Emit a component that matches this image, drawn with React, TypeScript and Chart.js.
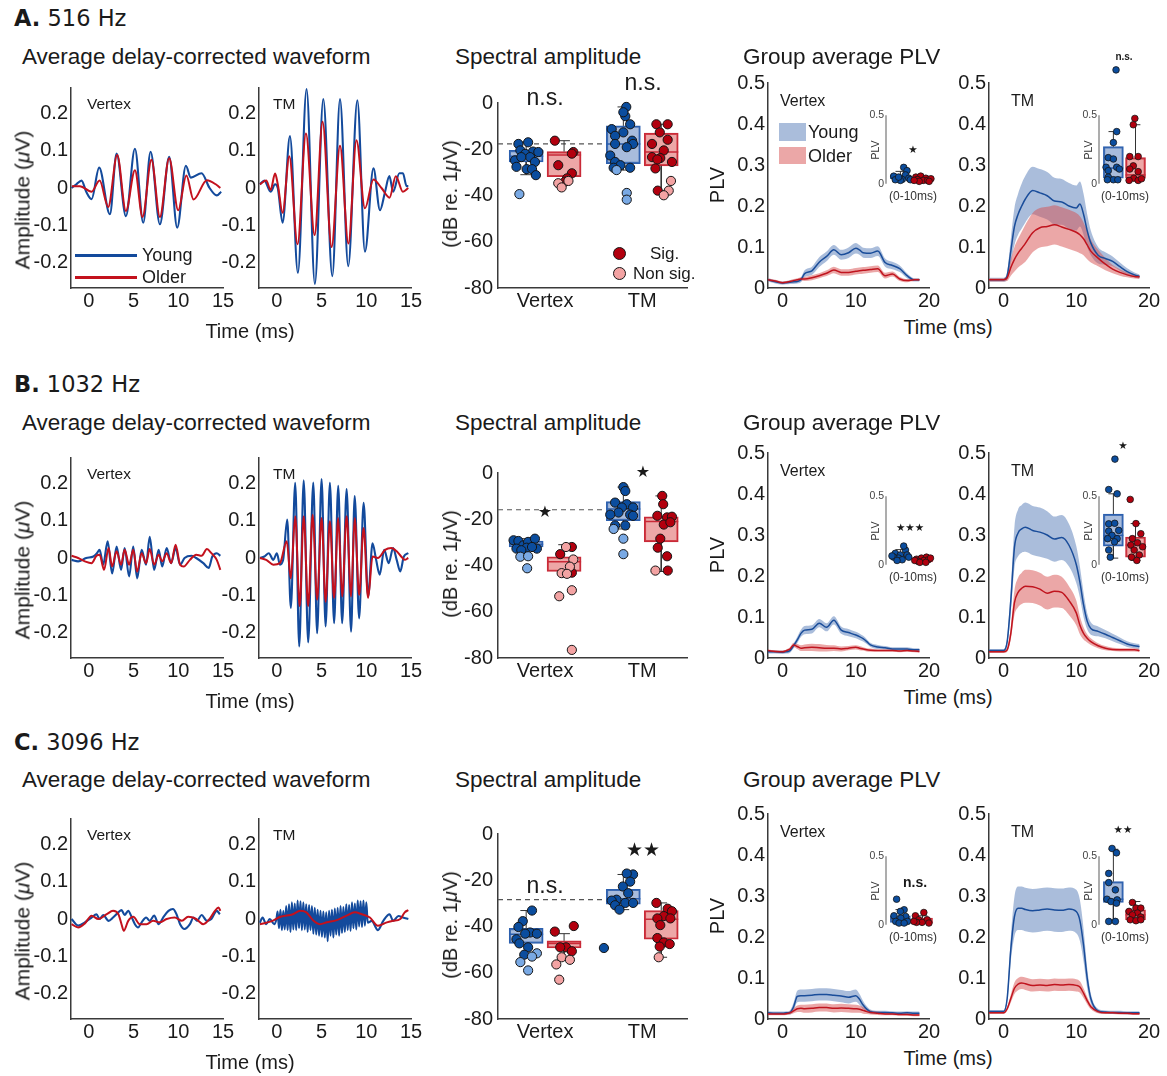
import React, { useEffect, useRef } from "react";
import { Chart, registerables } from "chart.js";

Chart.register(...registerables);

const SANS = "'Liberation Sans', Arial, Helvetica, sans-serif";
const DEJAVU = "'DejaVu Sans', sans-serif";
Chart.defaults.font.family = SANS;
Chart.defaults.color = "#1a1a1a";

// ---------------- colours ----------------
const BLUE = "#134a9c";
const RED = "#c3111d";
const YOUNG_BAND = "rgba(100,135,190,0.55)";
const OLDER_BAND = "rgba(215,80,80,0.5)";
const PLV_BLUE = "#1a4d9a";
const PLV_RED = "#c0141e";
const Y_DARK = "#0b4d9e";
const Y_LIGHT = "#79a9e4";
const O_DARK = "#b2000e";
const O_LIGHT = "#f3a3a3";
const Y_BOX = "rgba(105,140,195,0.58)";
const O_BOX = "rgba(222,95,95,0.55)";
const Y_EDGE = "#2b5fae";
const O_EDGE = "#c92a38";
const AXIS = "#3a3a3a";
const INK = "#1a1a1a";

// ---------------- row labels ----------------
const ROW_LETTER = ["A.", "B.", "C."];
const ROW_FREQ = ["516 Hz", "1032 Hz", "3096 Hz"];

// ---------------- waveform data: [time ms, amplitude µV] ----------------
const A_VX_Y = [[-1.94,0],[-1.4,0.01],[-0.82,0.02],[-0.3,-0.01],[0.3,-0.03],[1.15,0.055],[2.35,-0.071],[3.1,0.093],[4.14,-0.076],[5.15,0.106],[6.08,-0.094],[6.9,0.098],[7.94,-0.098],[8.98,0.084],[9.88,-0.107],[10.85,0.06],[11.4,0.028],[12.6,0.04],[13.5,0],[14.3,-0.02],[14.8,-0.01]];
const A_VX_O = [[-1.9,0.005],[-1,0.005],[0.3,-0.01],[1.2,0.02],[2.16,-0.051],[3.17,0.089],[4.14,-0.062],[5.15,0.048],[6.0,-0.078],[7.0,0.076],[7.94,-0.078],[8.98,0.08],[9.99,-0.06],[10.9,0.034],[11.7,-0.031],[13.2,0.021],[14.3,0.008],[14.7,0]];
const A_TM_Y = [[-1.9,0.01],[-1.4,0.02],[-0.7,-0.01],[-0.2,0.01],[0.1,0],[0.64,-0.094],[1.46,0.14],[2.35,-0.229],[3.32,0.267],[4.25,-0.259],[5.19,0.24],[6.2,-0.238],[7.06,0.24],[7.98,-0.211],[9.0,0.237],[9.85,-0.172],[10.8,0.053],[11.53,-0.06],[12.1,-0.01],[12.58,0.032],[13.0,-0.01],[13.7,0.04],[14.1,0.04],[14.5,0.005],[14.7,0.005]];
const A_TM_O = [[-1.9,0.01],[-1.2,0.02],[-0.7,-0.005],[-0.2,0.039],[0.1,0.01],[0.64,-0.067],[1.39,0.086],[2.31,-0.152],[3.25,0.147],[4.22,-0.127],[5.11,0.179],[6.12,-0.159],[7.06,0.114],[8.0,-0.15],[8.9,0.129],[9.85,-0.055],[10.8,0.023],[11.7,0],[12.6,-0.026],[13.3,0.032],[14.1,-0.01],[14.7,0]];

const B_VX_Y = [[-1.94,-0.005],[-1.2,-0.009],[-0.3,0],[0.5,0.004],[0.9,0.013],[1.2,0.022],[1.6,-0.018],[2.1,0.045],[2.6,-0.042],[3.1,0.031],[3.6,-0.032],[4.0,0.027],[4.5,-0.05],[4.96,0.031],[5.4,-0.055],[5.9,0.022],[6.4,-0.018],[6.8,0.057],[7.3,-0.032],[7.8,0.022],[8.2,-0.023],[8.7,0.027],[9.2,-0.014],[9.7,0.027],[10.2,-0.018],[10.7,0],[11.5,0.006],[12.0,0],[12.8,-0.014],[13.4,-0.027],[13.8,0.004],[14.3,0.013],[14.7,0.006]];
const B_VX_O = [[-1.94,0.006],[-1.2,0],[-0.45,-0.009],[0.3,-0.014],[0.85,0.006],[1.2,0.009],[1.7,-0.032],[2.2,0.027],[2.6,-0.023],[3.1,0.018],[3.6,-0.018],[4.0,0.022],[4.5,-0.018],[4.96,0.022],[5.4,-0.037],[5.9,0.013],[6.4,-0.014],[6.8,0.024],[7.3,-0.018],[7.8,0.009],[8.2,-0.009],[8.7,0.013],[9.2,-0.014],[9.7,0.036],[10.2,-0.018],[10.6,-0.023],[11.3,-0.005],[12.0,0.009],[12.6,0.006],[13.2,0.024],[13.7,0.013],[14.3,-0.005],[14.7,-0.032]];
const B_TM_Y = [[-1.9,0],[-1.4,0.004],[-0.9,0.013],[-0.4,-0.005],[0,0.013],[0.34,-0.018],[0.7,-0.005],[1.16,0.104],[1.56,-0.135],[2.05,0.203],[2.5,-0.239],[3.0,0.21],[3.5,-0.228],[4.07,0.204],[4.5,-0.203],[5.0,0.213],[5.45,-0.185],[5.93,0.203],[6.4,-0.176],[6.86,0.195],[7.3,-0.176],[7.8,0.186],[8.3,-0.199],[8.7,0.167],[9.2,-0.163],[9.7,0.149],[10.2,-0.104],[10.7,0.04],[11.1,-0.005],[11.5,-0.045],[12.0,0.022],[12.5,-0.014],[13.0,0.027],[13.4,-0.005],[13.8,-0.036],[14.2,0.004],[14.7,0.013]];
const B_TM_O = [[-1.9,0],[-1.2,-0.005],[-0.4,-0.018],[0.34,-0.014],[1.1,0.045],[1.56,-0.055],[2.05,0.113],[2.55,-0.13],[3.0,0.113],[3.5,-0.13],[4.0,0.117],[4.5,-0.113],[5.0,0.108],[5.45,-0.118],[5.93,0.099],[6.4,-0.108],[6.86,0.108],[7.3,-0.104],[7.8,0.113],[8.3,-0.104],[8.7,0.108],[9.2,-0.1],[9.7,0.081],[10.2,-0.108],[10.7,0.004],[11.3,0],[12.1,0.022],[12.8,0.027],[13.4,0.018],[13.9,0.004],[14.3,-0.005],[14.7,0]];

const C_VX_Y = [[-1.94,0],[-1.2,-0.018],[-0.45,-0.009],[0.3,0.004],[0.85,0.013],[1.2,0],[1.6,0.011],[2.2,-0.005],[2.7,0.004],[3.3,0.018],[3.65,0.024],[4.0,0.011],[4.4,0.022],[4.8,0.004],[5.15,-0.014],[5.5,-0.023],[5.9,-0.009],[6.4,0.004],[6.8,-0.005],[7.3,0.009],[7.8,-0.014],[8.3,0.004],[8.9,0.022],[9.4,0.027],[9.8,0.013],[10.2,-0.014],[10.7,-0.027],[11.3,-0.014],[11.7,0.004],[12.1,-0.005],[12.6,0.011],[13.2,-0.005],[13.7,0],[14.3,0.022],[14.65,0.013]];
const C_VX_O = [[-1.94,-0.014],[-1.2,-0.023],[-0.45,-0.012],[0.3,0.009],[1.05,0],[2.0,0.013],[2.7,0.022],[3.3,0.013],[3.65,-0.014],[3.9,-0.032],[4.4,-0.005],[4.96,0.006],[5.7,-0.014],[6.45,-0.014],[7.2,-0.005],[7.9,-0.009],[8.7,0],[9.6,0.004],[10.4,-0.005],[11.1,0.006],[12.0,0],[12.8,-0.014],[13.5,0],[14.1,0.022],[14.5,0.031],[14.7,0.022]];
const C_TM_Y_PRE = [[-1.9,-0.01],[-1.6,0.004],[-1.2,-0.014],[-0.8,0],[-0.3,-0.014],[-0.05,0]];
// alternating crest / trough values of the 3096 Hz response, one per 0.16 ms from 0.08 ms
const C_TM_Y_OSC = [0.02,-0.025,0.025,-0.03,0.022,-0.028,0.035,-0.03,0.04,-0.035,0.045,-0.028,0.042,-0.03,0.05,-0.025,0.048,-0.03,0.045,-0.028,0.04,-0.035,0.038,-0.03,0.035,-0.04,0.03,-0.042,0.025,-0.045,0.022,-0.048,0.02,-0.05,0.018,-0.06,0.022,-0.045,0.025,-0.05,0.028,-0.042,0.03,-0.045,0.035,-0.038,0.032,-0.035,0.04,-0.03,0.038,-0.032,0.045,-0.025,0.042,-0.028,0.05,-0.02,0.048,-0.022,0.05,-0.018,0.045,-0.01];
const C_TM_Y_POST = [[10.6,-0.005],[11.3,-0.03],[11.9,-0.005],[12.6,0.013],[13.0,-0.005],[13.6,0.008],[14.1,0.004],[14.7,0]];
const C_TM_Y = [...C_TM_Y_PRE, ...C_TM_Y_OSC.map((v, i) => [0.08 + 0.16 * i, v]), ...C_TM_Y_POST];
const C_TM_O = [[-1.9,-0.014],[-1.2,-0.01],[-0.5,-0.005],[0.4,0.006],[1.8,0.013],[2.6,0.022],[3.3,0.018],[4.1,-0.005],[4.8,-0.014],[5.6,-0.009],[6.7,-0.003],[7.8,0.009],[8.7,0.018],[9.5,0.013],[10.4,0.004],[11.3,-0.018],[12.3,-0.009],[13.0,-0.005],[13.8,0],[14.3,0.018],[14.7,0.024]];

const WAVES = [
  [A_VX_Y, A_VX_O, A_TM_Y, A_TM_O],
  [B_VX_Y, B_VX_O, B_TM_Y, B_TM_O],
  [C_VX_Y, C_VX_O, C_TM_Y, C_TM_O],
];

// ---------------- spectral amplitude (dB re 1 µV): [x offset, dB, significant] ----------------
const SPEC_X = [0.805, 1.195, 1.805, 2.195];
const A_SPEC_VY = [[-0.08,-17.7,1],[0.02,-17,1],[-0.06,-20.5,1],[0.07,-21,1],[-0.01,-22,1],[0.04,-23.4,1],[-0.115,-24.8,1],[-0.05,-23.4,1],[0.09,-25.5,1],[-0.1,-27.6,1],[0.005,-28.6,1],[0.06,-28.6,1],[0.1,-31.2,1],[0.125,-21.2,1],[-0.07,-39.4,0]];
const A_SPEC_VO = [[-0.095,-16.3,1],[-0.06,-26.9,1],[0.095,-21.2,1],[0.08,-21.9,1],[0.08,-30.4,1],[0.03,-32.6,1],[0.01,-34,1],[-0.06,-34.7,0],[-0.025,-36.5,0],[0.045,-33.7,0]];
const A_SPEC_TY = [[0.03,-1.7,1],[0.02,-5.7,1],[0,-4,1],[0.07,-9.2,1],[-0.12,-11.3,1],[0,-12.7,1],[-0.085,-14.2,1],[0.09,-16.3,1],[-0.085,-17.7,1],[0.1,-17.7,1],[0.035,-19.1,1],[-0.135,-22.7,1],[-0.085,-25.5,1],[-0.03,-26.9,1],[0.07,-28,1],[-0.1,-28,1],[-0.07,-29,0],[0.035,-38.9,0],[0.035,-41.8,0]];
const A_SPEC_TO = [[-0.05,-9.2,1],[0.066,-9.2,1],[-0.015,-12.7,1],[0.066,-15.9,1],[-0.095,-17.7,1],[0.026,-20.5,1],[-0.095,-23.4,1],[-0.01,-23.8,1],[-0.04,-24.4,1],[0.11,-25.5,1],[-0.06,-28.3,1],[-0.036,-37.9,1],[0.1,-33.7,0],[0.077,-37.9,0],[0.026,-39.9,0]];
// [q1, median, q3, lower whisker, upper whisker] for Vertex-young, Vertex-older, TM-young, TM-older
const A_SPEC_STATS = [[-25.5,-23,-20.5,-31,-17],[-31.9,-22.5,-21,-35,-16.3],[-26.2,-17.7,-9.9,-29,-1.7],[-27.2,-21.2,-13,-38,-9.2]];

const B_SPEC_VY = [[-0.13,-29.1,1],[-0.08,-29.4,1],[-0.03,-31.3,1],[0.02,-29.8,1],[0.09,-28.4,1],[0.11,-32.7,1],[0.005,-32.3,1],[-0.1,-32.7,1],[0.06,-32,1],[-0.05,-33.4,1],[-0.06,-36.2,0],[0.02,-36,0],[0.01,-41.2,0]];
const B_SPEC_VO = [[-0.04,-35.1,1],[0.08,-32,1],[0.08,-43.1,1],[0.02,-32,0],[0.095,-37.4,0],[-0.025,-43.3,0],[0.06,-40.5,0],[-0.05,-53.3,0],[0.08,-50.7,0],[0.08,-76.5,0],[0.03,-43.6,0]];
const B_SPEC_TY = [[0,-6.1,1],[0.02,-7.8,1],[-0.085,-12.8,1],[0.035,-13.5,1],[-0.015,-14.9,1],[0.1,-14.9,1],[-0.05,-17.1,1],[0.07,-18,1],[-0.135,-18,1],[0.1,-18.5,1],[-0.085,-22.7,1],[0.02,-22.7,1],[-0.1,-24.2,0],[0,-28.4,0],[0,-35.1,0]];
const B_SPEC_TO = [[0.01,-9.9,1],[0.02,-13.5,1],[-0.04,-18.5,1],[0.06,-19.2,1],[0.11,-18.9,1],[0.026,-22.3,1],[0.094,-21.3,1],[-0.01,-28.4,1],[-0.036,-32.3,1],[0.06,-36,1],[0.067,-42.2,1],[-0.06,-42.2,0]];
const B_SPEC_STATS = [[-32,-30.8,-29.4,-33.4,-28.4],[-42.6,-38.4,-36.2,-43.6,-31],[-20.6,-15.6,-12.4,-24.2,-6.1],[-29.8,-21,-18.9,-42.6,-9.9]];

const C_SPEC_VY = [[0.06,-33.1,1],[-0.035,-37.7,1],[-0.08,-40.2,1],[0.04,-42.6,1],[0.11,-43.1,1],[-0.01,-43.1,1],[-0.1,-45.5,1],[-0.07,-47.3,1],[0.02,-49,1],[-0.02,-52.2,1],[0.11,-51.6,0],[0.06,-53,0],[-0.06,-55.4,0],[0.02,-59,0]];
const C_SPEC_VO = [[-0.095,-42.2,1],[0.1,-39.8,1],[0.02,-49,1],[-0.04,-49,1],[0.08,-50.7,1],[-0.025,-53.3,0],[0.06,-54.4,0],[-0.08,-56.4,0],[-0.05,-63,0]];
const C_SPEC_TY = [[0.1,-17.5,1],[0.035,-17.1,1],[0.07,-20.6,1],[-0.005,-22.7,1],[0.05,-25.6,1],[-0.07,-28.4,1],[0.02,-29.8,1],[0.1,-29.8,1],[-0.12,-28.8,1],[-0.085,-30.8,1],[-0.04,-32.7,1],[-0.2,-49.3,1]];
const C_SPEC_TO = [[-0.05,-29.8,1],[0.066,-32.3,1],[0.11,-33.4,1],[0.026,-35.5,1],[-0.04,-36.5,1],[0.094,-36.5,1],[-0.01,-39.4,1],[-0.04,-45,1],[0.026,-46.9,1],[0.087,-47.6,1],[-0.016,-48.7,1],[-0.026,-53.3,0]];
const C_SPEC_STATS = [[-47.3,-43.3,-40.8,-52.6,-33.1],[-49.3,-47.3,-46.2,-53.3,-43.1],[-30.3,-28,-23.9,-32.7,-17.5],[-45.5,-36.9,-33.1,-53.3,-29.8]];

const SPEC_GROUPS = [
  [A_SPEC_VY, A_SPEC_VO, A_SPEC_TY, A_SPEC_TO],
  [B_SPEC_VY, B_SPEC_VO, B_SPEC_TY, B_SPEC_TO],
  [C_SPEC_VY, C_SPEC_VO, C_SPEC_TY, C_SPEC_TO],
];
const SPEC_STATS = [A_SPEC_STATS, B_SPEC_STATS, C_SPEC_STATS];
const SPEC_DASH = [-17.7, -15.9, -28.4];

// ---------------- group average PLV: time axis + mean and SE per group ----------------
const T_PLV = [-2,-1,0,0.5,1,1.5,2,2.5,3,4,5,6,7,8,9,10,10.5,11,11.5,12,13,14,15,16,17,18,18.7];
const A_PV_YM = [0.02,0.015,0.012,0.013,0.014,0.015,0.016,0.02,0.035,0.042,0.063,0.077,0.093,0.081,0.086,0.097,0.093,0.086,0.085,0.085,0.09,0.062,0.055,0.047,0.03,0.02,0.02];
const A_PV_YS = [0.004,0.004,0.004,0.004,0.004,0.005,0.005,0.006,0.008,0.01,0.012,0.012,0.012,0.012,0.013,0.013,0.012,0.012,0.012,0.012,0.012,0.01,0.009,0.008,0.006,0.004,0.004];
const A_PV_OM = [0.02,0.017,0.013,0.014,0.016,0.018,0.02,0.022,0.022,0.025,0.03,0.036,0.044,0.038,0.038,0.041,0.042,0.043,0.044,0.045,0.047,0.03,0.034,0.022,0.018,0.02,0.02];
const A_PV_OS = [0.003,0.003,0.003,0.003,0.003,0.004,0.004,0.004,0.005,0.006,0.006,0.007,0.008,0.008,0.008,0.008,0.008,0.008,0.008,0.008,0.008,0.007,0.006,0.005,0.004,0.003,0.003];
const A_PT_YM = [0.02,0.02,0.02,0.03,0.09,0.15,0.18,0.2,0.217,0.238,0.232,0.225,0.212,0.21,0.2,0.195,0.205,0.18,0.14,0.11,0.08,0.072,0.065,0.052,0.04,0.032,0.028];
const A_PT_YS = [0.005,0.005,0.005,0.01,0.03,0.045,0.05,0.055,0.057,0.058,0.058,0.058,0.057,0.056,0.056,0.055,0.055,0.05,0.04,0.03,0.02,0.015,0.012,0.01,0.008,0.006,0.005];
const A_PT_OM = [0.02,0.02,0.02,0.025,0.05,0.07,0.085,0.097,0.109,0.135,0.147,0.15,0.154,0.149,0.143,0.136,0.13,0.12,0.105,0.09,0.073,0.058,0.046,0.038,0.032,0.028,0.027];
const A_PT_OS = [0.004,0.004,0.004,0.008,0.02,0.03,0.035,0.04,0.045,0.048,0.048,0.048,0.048,0.048,0.048,0.047,0.045,0.04,0.035,0.028,0.02,0.015,0.01,0.008,0.006,0.005,0.005];

const B_PV_YM = [0.015,0.015,0.014,0.015,0.018,0.03,0.044,0.06,0.068,0.07,0.085,0.075,0.092,0.068,0.062,0.056,0.052,0.047,0.04,0.032,0.027,0.025,0.022,0.022,0.022,0.02,0.02];
const B_PV_YS = [0.004,0.004,0.004,0.004,0.005,0.006,0.008,0.009,0.01,0.01,0.01,0.01,0.01,0.009,0.009,0.008,0.008,0.007,0.006,0.005,0.005,0.004,0.004,0.004,0.004,0.004,0.004];
const B_PV_OM = [0.018,0.016,0.015,0.018,0.022,0.032,0.028,0.024,0.025,0.026,0.025,0.024,0.024,0.022,0.024,0.026,0.024,0.022,0.02,0.019,0.018,0.018,0.018,0.017,0.018,0.017,0.016];
const B_PV_OS = [0.003,0.003,0.003,0.003,0.004,0.005,0.006,0.007,0.008,0.009,0.009,0.008,0.007,0.006,0.005,0.005,0.005,0.004,0.004,0.004,0.003,0.003,0.003,0.003,0.003,0.003,0.003];
const B_PT_YM = [0.018,0.018,0.018,0.04,0.14,0.27,0.305,0.315,0.319,0.311,0.307,0.3,0.29,0.294,0.275,0.228,0.185,0.13,0.09,0.072,0.065,0.058,0.05,0.042,0.034,0.03,0.028];
const B_PT_YS = [0.004,0.004,0.004,0.01,0.03,0.05,0.057,0.058,0.06,0.06,0.06,0.058,0.055,0.055,0.052,0.045,0.038,0.03,0.02,0.015,0.012,0.01,0.009,0.008,0.007,0.006,0.006];
const B_PT_OM = [0.015,0.015,0.015,0.02,0.06,0.135,0.16,0.17,0.175,0.174,0.168,0.158,0.163,0.16,0.14,0.11,0.08,0.06,0.048,0.04,0.03,0.024,0.021,0.02,0.02,0.02,0.018];
const B_PT_OS = [0.003,0.003,0.003,0.005,0.015,0.03,0.036,0.038,0.04,0.04,0.04,0.04,0.04,0.038,0.035,0.03,0.022,0.015,0.01,0.008,0.006,0.005,0.004,0.004,0.004,0.004,0.004];

const C_PV_YM = [0.015,0.014,0.014,0.015,0.016,0.03,0.055,0.057,0.057,0.058,0.06,0.06,0.058,0.056,0.053,0.057,0.048,0.034,0.024,0.018,0.016,0.016,0.015,0.014,0.015,0.014,0.014];
const C_PV_YS = [0.004,0.004,0.004,0.004,0.005,0.01,0.014,0.015,0.015,0.015,0.015,0.015,0.015,0.015,0.015,0.015,0.013,0.01,0.007,0.005,0.004,0.004,0.004,0.004,0.004,0.004,0.004];
const C_PV_OM = [0.012,0.012,0.012,0.013,0.015,0.02,0.025,0.026,0.025,0.026,0.028,0.028,0.026,0.027,0.026,0.025,0.024,0.021,0.018,0.016,0.014,0.012,0.012,0.011,0.011,0.01,0.01];
const C_PV_OS = [0.003,0.003,0.003,0.003,0.004,0.006,0.008,0.009,0.01,0.01,0.01,0.01,0.01,0.01,0.01,0.01,0.009,0.008,0.006,0.005,0.004,0.003,0.003,0.003,0.003,0.003,0.003];
const C_PT_YM = [0.018,0.018,0.018,0.05,0.17,0.25,0.27,0.27,0.267,0.264,0.266,0.268,0.266,0.265,0.268,0.262,0.24,0.18,0.1,0.05,0.02,0.017,0.016,0.016,0.015,0.015,0.015];
const C_PT_YS = [0.004,0.004,0.004,0.01,0.03,0.048,0.053,0.053,0.053,0.053,0.053,0.053,0.053,0.053,0.053,0.053,0.05,0.04,0.025,0.012,0.005,0.004,0.004,0.004,0.004,0.004,0.004];
const C_PT_OM = [0.015,0.015,0.015,0.025,0.05,0.075,0.085,0.088,0.086,0.082,0.083,0.082,0.084,0.083,0.084,0.082,0.078,0.063,0.045,0.03,0.018,0.015,0.015,0.014,0.014,0.013,0.013];
const C_PT_OS = [0.003,0.003,0.003,0.005,0.01,0.014,0.015,0.015,0.015,0.015,0.015,0.015,0.015,0.015,0.015,0.015,0.014,0.012,0.009,0.006,0.004,0.003,0.003,0.003,0.003,0.003,0.003];

const PLV_VX = [[A_PV_YM, A_PV_YS, A_PV_OM, A_PV_OS],[B_PV_YM, B_PV_YS, B_PV_OM, B_PV_OS],[C_PV_YM, C_PV_YS, C_PV_OM, C_PV_OS]];
const PLV_TM = [[A_PT_YM, A_PT_YS, A_PT_OM, A_PT_OS],[B_PT_YM, B_PT_YS, B_PT_OM, B_PT_OS],[C_PT_YM, C_PT_YS, C_PT_OM, C_PT_OS]];

// ---------------- inset PLV (0-10 ms): [x offset, PLV] ----------------
const INSET_X = [1, 2];
const INSET_YMAX = 0.9;
const A_INS_VY = [[0.15,0.119],[0.3,0.095],[0.23,0.064],[-0.15,0.036],[0.08,0.031],[-0.3,0.055],[0.38,0.04],[0,0.024],[-0.23,0.029],[0.45,0.029],[-0.08,0.048]];
const A_INS_VO = [[-0.3,0.048],[-0.08,0.055],[0.15,0.04],[-0.23,0.031],[0.03,0.024],[0.23,0.024],[0.38,0.036],[-0.15,0.017],[-0.38,0.024],[0.3,0.017]];
const A_INS_TY = [[0.15,0.38],[0,0.3],[-0.23,0.19],[0,0.18],[-0.33,0.12],[0.15,0.12],[-0.23,0.095],[0.27,0.107],[-0.23,0.048],[0,0.029],[0.2,0.029],[-0.27,0.029],[0.12,0.83]];
const A_INS_TO = [[-0.03,0.476],[-0.1,0.43],[-0.26,0.198],[0.12,0.198],[-0.1,0.13],[-0.26,0.107],[0.12,0.088],[-0.08,0.04],[0.12,0.024],[-0.29,0.024],[0.27,0.036]];
const A_INS_STATS = [[0.036,0.05,0.064,0.02,0.09],[0.022,0.03,0.042,0.015,0.055],[0.04,0.114,0.27,0.024,0.38],[0.04,0.064,0.19,0.024,0.43]];
const B_INS_VY = [[-0.23,0.083],[0,0.071],[0.23,0.107],[0.15,0.136],[-0.08,0.048],[-0.3,0.055],[0.3,0.071],[0.08,0.036],[-0.15,0.031],[0.38,0.055],[-0.38,0.064]];
const B_INS_VO = [[-0.27,0.04],[-0.05,0.048],[0.18,0.055],[-0.2,0.024],[0.06,0.031],[0.26,0.036],[-0.35,0.031],[0.36,0.048],[-0.12,0.017],[0.15,0.017]];
const B_INS_TY = [[-0.21,0.548],[0.17,0.517],[-0.21,0.298],[0.06,0.302],[-0.21,0.245],[0.24,0.25],[-0.06,0.214],[-0.26,0.19],[0.17,0.19],[0.05,0.167],[-0.21,0.107],[-0.14,0.055],[0.07,0.77]];
const B_INS_TO = [[-0.24,0.476],[0.02,0.3],[0.24,0.226],[-0.14,0.19],[0.09,0.16],[0.32,0.131],[-0.21,0.143],[-0.06,0.107],[0.17,0.071],[-0.18,0.055],[0.06,0.031]];
const B_INS_STATS = [[0.04,0.055,0.079,0.03,0.11],[0.02,0.03,0.045,0.015,0.055],[0.136,0.214,0.369,0.048,0.517],[0.055,0.143,0.202,0.031,0.3]];
const C_INS_VY = [[-0.17,0.186],[0.17,0.109],[0,0.097],[-0.29,0.065],[0.24,0.06],[0.02,0.048],[-0.21,0.024],[0.32,0.024],[-0.06,0.012],[0.17,0.012]];
const C_INS_VO = [[0.06,0.089],[-0.32,0.065],[0.21,0.036],[-0.17,0.036],[-0.02,0.017],[-0.27,0.017],[0.29,0.012],[-0.39,0.024]];
const C_INS_TY = [[-0.06,0.556],[0.14,0.524],[-0.21,0.374],[-0.21,0.307],[0.09,0.254],[-0.29,0.186],[0.17,0.181],[-0.11,0.169],[0.14,0.157],[-0.21,0.024],[0.09,0.024]];
const C_INS_TO = [[-0.14,0.162],[0.02,0.121],[0.24,0.121],[-0.29,0.097],[0.09,0.085],[-0.14,0.072],[0.24,0.056],[-0.24,0.036],[0.02,0.029],[0.24,0.036]];
const C_INS_STATS = [[0.017,0.04,0.065,0.012,0.11],[0.012,0.02,0.048,0.01,0.065],[0.162,0.186,0.314,0.024,0.55],[0.036,0.072,0.109,0.029,0.169]];

const INS = [
  [A_INS_VY, A_INS_VO, A_INS_TY, A_INS_TO, A_INS_STATS],
  [B_INS_VY, B_INS_VO, B_INS_TY, B_INS_TO, B_INS_STATS],
  [C_INS_VY, C_INS_VO, C_INS_TY, C_INS_TO, C_INS_STATS],
];

// significance labels and their positions
const SPEC_MARKS = [["n.s.", "n.s."], ["★", "★"], ["n.s.", "★★"]];
const SPEC_MARK_Y = [[97, 82], [512, 472], [885, 849]];
const INS_MARKS = [["★", "n.s."], ["★★★", "★"], ["n.s.", "★★"]];
const INS_MARK_POS = [[[913, 149], [1124, 57]], [[910, 527], [1123, 445]], [[915, 882], [1123, 829]]];

// ---------------- layout ----------------
const DY = [0, 370, 731];
const HEAD_Y = [18, 384, 742];
const SUB_Y = [57, 423, 780];
const INSET_B = [184, 565, 925];

// ---------------- helpers ----------------
function scaleOpts(o) {
  const values = o.values;
  const labels = o.labels;
  return {
    type: "linear",
    display: o.display !== false,
    min: o.min,
    max: o.max,
    offset: false,
    grid: { display: false, drawTicks: false },
    border: { display: o.border !== false, color: o.borderColor || AXIS, width: o.borderWidth || 1.5 },
    afterBuildTicks: (s) => {
      s.ticks = values.map((v) => ({ value: v }));
    },
    ticks: {
      autoSkip: false,
      maxRotation: 0,
      minRotation: 0,
      padding: o.padding == null ? 3 : o.padding,
      color: o.color || INK,
      font: { size: o.size || 20, family: SANS },
      callback: (v) => {
        const k = values.indexOf(v);
        return k >= 0 ? labels[k] : "";
      },
    },
  };
}

function baseOptions(x, y) {
  return {
    responsive: false,
    maintainAspectRatio: false,
    animation: false,
    events: [],
    plugins: { legend: { display: false }, tooltip: { enabled: false } },
    scales: { x, y },
  };
}

function segs(list) {
  const out = [];
  list.forEach(([x1, y1, x2, y2]) => {
    out.push({ x: x1, y: y1 }, { x: x2, y: y2 }, { x: x2, y: null });
  });
  return out;
}

function lineSet(data, color, width, order, dash) {
  return {
    type: "line",
    data,
    borderColor: color,
    borderWidth: width,
    borderDash: dash || [],
    pointRadius: 0,
    fill: false,
    spanGaps: false,
    tension: 0,
    clip: false,
    order,
  };
}

function pointSet(data, fill, radius, bw, order) {
  return {
    type: "scatter",
    data,
    backgroundColor: fill,
    borderColor: "#151515",
    borderWidth: bw,
    pointRadius: radius,
    showLine: false,
    clip: false,
    order,
  };
}

function boxSets(xs, hw, cw, thickness, stats, groups, radius, bw) {
  const sets = [];
  sets.push({
    type: "bar",
    data: xs.map((x, i) => ({ x, y: [stats[i][0], stats[i][2]] })),
    backgroundColor: xs.map((_, i) => (i % 2 === 0 ? Y_BOX : O_BOX)),
    borderColor: xs.map((_, i) => (i % 2 === 0 ? Y_EDGE : O_EDGE)),
    borderWidth: 1.5,
    borderSkipped: false,
    barThickness: thickness,
    order: 6,
  });
  [0, 1].forEach((par) => {
    const list = [];
    xs.forEach((x, i) => {
      if (i % 2 === par) list.push([x - hw, stats[i][1], x + hw, stats[i][1]]);
    });
    sets.push(lineSet(segs(list), par === 0 ? Y_EDGE : O_EDGE, 1.5, 3));
  });
  const wl = [];
  xs.forEach((x, i) => {
    const [q1, , q3, lo, hi] = stats[i];
    if (hi > q3) wl.push([x, q3, x, hi], [x - cw, hi, x + cw, hi]);
    if (lo < q1) wl.push([x, q1, x, lo], [x - cw, lo, x + cw, lo]);
  });
  sets.push(lineSet(segs(wl), "#333", 1, 4));
  const pick = (gi, sig) =>
    groups[gi]
      .filter((p) => (p.length > 2 ? p[2] : 1) === sig)
      .map((p) => ({ x: xs[gi] + p[0], y: p[1] }));
  const yd = [], yl = [], od = [], ol = [];
  xs.forEach((_, gi) => {
    if (gi % 2 === 0) { yd.push(...pick(gi, 1)); yl.push(...pick(gi, 0)); }
    else { od.push(...pick(gi, 1)); ol.push(...pick(gi, 0)); }
  });
  sets.push(pointSet(yl, Y_LIGHT, radius, bw, 1));
  sets.push(pointSet(yd, Y_DARK, radius, bw, 1));
  sets.push(pointSet(ol, O_LIGHT, radius, bw, 0));
  sets.push(pointSet(od, O_DARK, radius, bw, 0));
  return sets;
}

function waveConfig(young, older) {
  const toXY = (arr) => arr.map(([t, a]) => ({ x: t, y: a }));
  return {
    type: "line",
    data: {
      datasets: [
        { data: toXY(older), borderColor: RED, borderWidth: 2, pointRadius: 0, cubicInterpolationMode: "monotone", order: 0 },
        { data: toXY(young), borderColor: BLUE, borderWidth: 2.1, pointRadius: 0, cubicInterpolationMode: "monotone", order: 1 },
      ],
    },
    options: baseOptions(
      scaleOpts({ min: -2, max: 15, values: [0, 5, 10, 15], labels: ["0", "5", "10", "15"], padding: 1 }),
      scaleOpts({ min: -0.27, max: 0.27, values: [-0.2, -0.1, 0, 0.1, 0.2], labels: ["-0.2", "-0.1", "0", "0.1", "0.2"], padding: 3 })
    ),
  };
}

function plvConfig(series) {
  const [ym, ys, om, os] = series;
  const band = (m, s, sign) => T_PLV.map((t, i) => ({ x: t, y: m[i] + sign * s[i] }));
  const line = (m) => T_PLV.map((t, i) => ({ x: t, y: m[i] }));
  const common = { pointRadius: 0, cubicInterpolationMode: "monotone" };
  return {
    type: "line",
    data: {
      datasets: [
        { ...common, data: band(ym, ys, 1), borderWidth: 0, borderColor: "rgba(0,0,0,0)", fill: false, order: 5 },
        { ...common, data: band(ym, ys, -1), borderWidth: 0, borderColor: "rgba(0,0,0,0)", fill: "-1", backgroundColor: YOUNG_BAND, order: 4 },
        { ...common, data: band(om, os, 1), borderWidth: 0, borderColor: "rgba(0,0,0,0)", fill: false, order: 3 },
        { ...common, data: band(om, os, -1), borderWidth: 0, borderColor: "rgba(0,0,0,0)", fill: "-1", backgroundColor: OLDER_BAND, order: 2 },
        { ...common, data: line(ym), borderColor: PLV_BLUE, borderWidth: 1.5, fill: false, order: 1 },
        { ...common, data: line(om), borderColor: PLV_RED, borderWidth: 1.5, fill: false, order: 0 },
      ],
    },
    options: baseOptions(
      scaleOpts({ min: -2, max: 20, values: [0, 10, 20], labels: ["0", "10", "20"], padding: 1 }),
      scaleOpts({ min: 0, max: 0.5, values: [0, 0.1, 0.2, 0.3, 0.4, 0.5], labels: ["0", "0.1", "0.2", "0.3", "0.4", "0.5"], padding: 3 })
    ),
  };
}

function spectralConfig(r) {
  const sets = boxSets(SPEC_X, 0.175, 0.06, 34, SPEC_STATS[r], SPEC_GROUPS[r], 4.6, 1);
  sets.push(lineSet(segs([[0.515, SPEC_DASH[r], SPEC_X[2] - 0.175, SPEC_DASH[r]]]), "#555", 1.2, 7, [5, 4]));
  return {
    type: "scatter",
    data: { datasets: sets },
    options: baseOptions(
      scaleOpts({ min: 0.515, max: 2.46, values: [1, 2], labels: ["Vertex", "TM"], padding: 1 }),
      scaleOpts({ min: -80, max: 0, values: [-80, -60, -40, -20, 0], labels: ["-80", "-60", "-40", "-20", "0"], padding: 5 })
    ),
  };
}

function insetConfig(young, older, stats) {
  const sets = boxSets(INSET_X, 0.45, 0.22, 20, stats, [young, older], 3.3, 0.8);
  // visible y axis line only spans 0 to 0.5
  sets.push(lineSet(segs([[0.35, 0, 0.35, 0.5]]), "#8a8a8a", 1.4, 8));
  return {
    type: "scatter",
    data: { datasets: sets },
    options: baseOptions(
      scaleOpts({ min: 0.35, max: 2.7, values: [], labels: [], display: false }),
      scaleOpts({ min: 0, max: INSET_YMAX, values: [0, 0.5], labels: ["0", "0.5"], size: 10.5, padding: 2, color: "#444", border: false })
    ),
  };
}

// ---------------- components ----------------
function ChartBox({ area, yw, xh, pad, build }) {
  const ref = useRef(null);
  const left = Math.round(area.l - yw - pad.l);
  const top = Math.round(area.t - pad.t);
  const width = Math.round(area.r + pad.r - left);
  const height = Math.round(area.b + xh + pad.b - top);
  useEffect(() => {
    const cfg = build();
    cfg.options.layout = { padding: { left: area.l - yw - left, right: pad.r, top: area.t - top, bottom: pad.b } };
    cfg.options.scales.x.afterFit = (s) => { s.height = xh; };
    cfg.options.scales.y.afterFit = (s) => { s.width = yw; };
    const chart = new Chart(ref.current, cfg);
    return () => chart.destroy();
  }, []);
  return (
    <canvas
      ref={ref}
      width={width}
      height={height}
      style={{ position: "absolute", left, top, width, height }}
    />
  );
}

function Txt({ x, y, size = 20, align = "left", bold = false, font = SANS, color = INK, rotate = false, children }) {
  const tx = align === "left" ? "0" : align === "center" ? "-50%" : "-100%";
  const transform = rotate ? "translate(-50%,-50%) rotate(-90deg)" : `translate(${tx},-50%)`;
  return (
    <div
      style={{
        position: "absolute",
        left: x,
        top: y,
        transform,
        fontSize: size,
        fontFamily: font,
        fontWeight: bold ? 700 : 400,
        color,
        whiteSpace: "nowrap",
        lineHeight: 1,
      }}
    >
      {children}
    </div>
  );
}

const PAD = { l: 2, t: 14, r: 14, b: 2 };

function Mark({ text, x, y, starSize, textSize, bold }) {
  const star = text.indexOf("★") >= 0;
  return (
    <Txt x={x} y={y} size={star ? starSize : textSize} bold={!star && bold} align="center" font={star ? DEJAVU : SANS}>
      {text}
    </Txt>
  );
}

function Row({ r }) {
  const dy = DY[r];
  const W = WAVES[r];
  const ins = INS[r];
  const ib = INSET_B[r];
  const it = ib - (INSET_YMAX / 0.5) * 69;
  return (
    <>
      <ChartBox area={{ l: 71, r: 223, t: 87 + dy, b: 288 + dy }} yw={42} xh={26} pad={PAD} build={() => waveConfig(W[0], W[1])} />
      <ChartBox area={{ l: 259, r: 411, t: 87 + dy, b: 288 + dy }} yw={42} xh={26} pad={PAD} build={() => waveConfig(W[2], W[3])} />
      <ChartBox area={{ l: 498, r: 687, t: 100 + dy, b: 288 + dy }} yw={42} xh={26} pad={PAD} build={() => spectralConfig(r)} />
      <ChartBox area={{ l: 768, r: 929, t: 82 + dy, b: 288 + dy }} yw={42} xh={26} pad={PAD} build={() => plvConfig(PLV_VX[r])} />
      <ChartBox area={{ l: 989, r: 1149, t: 82 + dy, b: 288 + dy }} yw={42} xh={26} pad={PAD} build={() => plvConfig(PLV_TM[r])} />
      <ChartBox area={{ l: 886, r: 938, t: it, b: ib }} yw={20} xh={0} pad={{ l: 2, t: 8, r: 14, b: 8 }} build={() => insetConfig(ins[0], ins[1], [ins[4][0], ins[4][1]])} />
      <ChartBox area={{ l: 1099, r: 1151, t: it, b: ib }} yw={20} xh={0} pad={{ l: 2, t: 8, r: 14, b: 8 }} build={() => insetConfig(ins[2], ins[3], [ins[4][2], ins[4][3]])} />

      {/* headings */}
      <Txt x={14} y={HEAD_Y[r]} size={22.5} font={DEJAVU}><b>{ROW_LETTER[r]}</b> {ROW_FREQ[r]}</Txt>
      <Txt x={22} y={SUB_Y[r]} size={22.5}>Average delay-corrected waveform</Txt>
      <Txt x={455} y={SUB_Y[r]} size={22.5}>Spectral amplitude</Txt>
      <Txt x={743} y={SUB_Y[r]} size={22.5}>Group average PLV</Txt>

      {/* axis titles */}
      <Txt x={22} y={200 + dy} size={21} rotate>Amplitude (<i>μ</i>V)</Txt>
      <Txt x={450} y={194 + dy} size={20} rotate>(dB re. 1<i>μ</i>V)</Txt>
      <Txt x={717} y={185 + dy} size={20} rotate>PLV</Txt>
      <Txt x={250} y={331 + dy} size={20} align="center">Time (ms)</Txt>
      <Txt x={948} y={327 + dy} size={20} align="center">Time (ms)</Txt>

      {/* panel labels */}
      <Txt x={87} y={104 + dy} size={15.5}>Vertex</Txt>
      <Txt x={273} y={104 + dy} size={15.5}>TM</Txt>
      <Txt x={780} y={101 + dy} size={16}>Vertex</Txt>
      <Txt x={1011} y={101 + dy} size={16}>TM</Txt>

      {/* spectral significance */}
      <Mark text={SPEC_MARKS[r][0]} x={545} y={SPEC_MARK_Y[r][0]} starSize={16} textSize={23} />
      <Mark text={SPEC_MARKS[r][1]} x={643} y={SPEC_MARK_Y[r][1]} starSize={SPEC_MARKS[r][1].length > 1 ? 19 : 16} textSize={23} />

      {/* inset labels */}
      <Txt x={875} y={ib - 34} size={10.5} rotate color="#333">PLV</Txt>
      <Txt x={1088} y={ib - 34} size={10.5} rotate color="#333">PLV</Txt>
      <Txt x={913} y={ib + 12} size={12} align="center" color="#333">(0-10ms)</Txt>
      <Txt x={1125} y={ib + 12} size={12} align="center" color="#333">(0-10ms)</Txt>
      <Mark text={INS_MARKS[r][0]} x={INS_MARK_POS[r][0][0]} y={INS_MARK_POS[r][0][1]} starSize={10.5} textSize={14} bold />
      <Mark text={INS_MARKS[r][1]} x={INS_MARK_POS[r][1][0]} y={INS_MARK_POS[r][1][1]} starSize={10.5} textSize={10} bold />
    </>
  );
}

function Legends() {
  return (
    <>
      {/* waveform legend */}
      <div style={{ position: "absolute", left: 75, top: 254, width: 62, height: 2.5, background: BLUE }} />
      <Txt x={142} y={255} size={18}>Young</Txt>
      <div style={{ position: "absolute", left: 75, top: 276, width: 62, height: 2.5, background: RED }} />
      <Txt x={142} y={277} size={18}>Older</Txt>
      {/* PLV legend */}
      <div style={{ position: "absolute", left: 779, top: 123, width: 27, height: 18, background: YOUNG_BAND }} />
      <Txt x={808} y={132} size={18}>Young</Txt>
      <div style={{ position: "absolute", left: 779, top: 147, width: 27, height: 17, background: OLDER_BAND }} />
      <Txt x={808} y={156} size={18}>Older</Txt>
      {/* significance legend */}
      <div style={{ position: "absolute", left: 613, top: 247, width: 11, height: 11, borderRadius: "50%", background: O_DARK, border: "1px solid #151515" }} />
      <Txt x={650} y={253} size={17}>Sig.</Txt>
      <div style={{ position: "absolute", left: 613, top: 267, width: 11, height: 11, borderRadius: "50%", background: O_LIGHT, border: "1px solid #151515" }} />
      <Txt x={633} y={273} size={17}>Non sig.</Txt>
    </>
  );
}

export default function App() {
  return (
    <div
      style={{
        position: "absolute",
        left: 0,
        top: 0,
        width: 1167,
        height: 1076,
        background: "#ffffff",
        overflow: "hidden",
        fontFamily: SANS,
      }}
    >
      {[0, 1, 2].map((r) => (
        <Row key={r} r={r} />
      ))}
      <Legends />
    </div>
  );
}
